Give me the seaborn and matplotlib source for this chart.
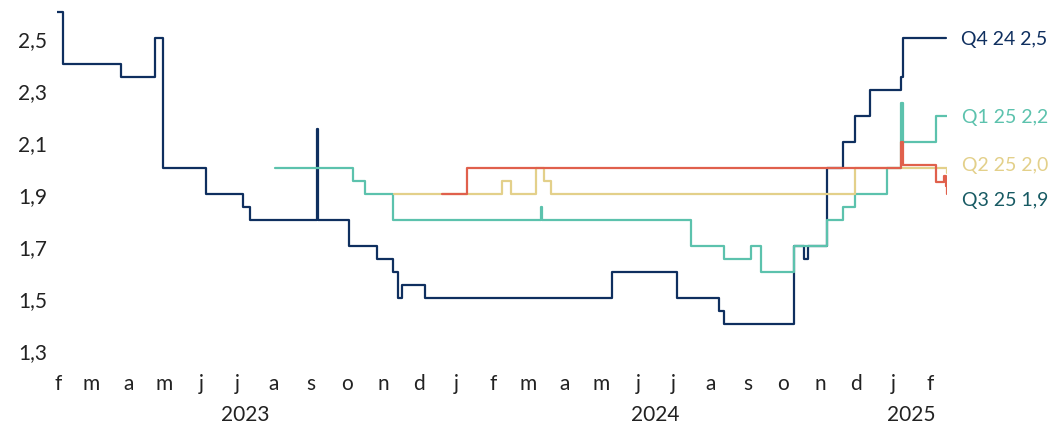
import pandas as pd
import numpy as np
import matplotlib.pyplot as plt
import seaborn as sns

# breakpoints (date where the value starts)
q4_24_dates = ['2023-01-31', '2023-02-05', '2023-03-26', '2023-04-23', '2023-04-30',
               '2023-06-05', '2023-07-06', '2023-07-12', '2023-09-06', '2023-09-07',
               '2023-10-03', '2023-10-26', '2023-11-09', '2023-11-13', '2023-11-16',
               '2023-12-06', '2024-05-10', '2024-07-04', '2024-08-08', '2024-08-12',
               '2024-10-10', '2024-10-18', '2024-10-22', '2024-11-07', '2024-11-20',
               '2024-11-30', '2024-12-13', '2025-01-08', '2025-01-09', '2025-02-14']
q4_24_vals = [2.6, 2.4, 2.35, 2.5, 2.0, 1.9, 1.85, 1.8, 2.15, 1.8,
              1.7, 1.65, 1.6, 1.5, 1.55, 1.5, 1.6, 1.5, 1.45, 1.4,
              1.7, 1.65, 1.7, 2.0, 2.1, 2.2, 2.3, 2.35, 2.5, 2.5]

q1_25_dates = ['2023-08-02', '2023-10-06', '2023-10-16', '2023-11-09', '2024-03-12',
               '2024-03-13', '2024-07-16', '2024-08-12', '2024-09-04', '2024-09-12',
               '2024-10-10', '2024-11-07', '2024-11-20', '2024-11-30', '2024-12-27',
               '2025-01-08', '2025-01-09', '2025-02-06', '2025-02-15']
q1_25_vals = [2.0, 1.95, 1.9, 1.8, 1.85, 1.8, 1.7, 1.65, 1.7, 1.6,
              1.7, 1.8, 1.85, 1.9, 2.0, 2.25, 2.1, 2.2, 2.2]

q2_25_dates = ['2023-11-10', '2024-02-08', '2024-02-16', '2024-03-08', '2024-03-14',
               '2024-03-20', '2024-11-30', '2025-02-15']
q2_25_vals = [1.9, 1.95, 1.9, 2.0, 1.95, 1.9, 2.0, 1.98]

q3_25_dates = ['2023-12-20', '2024-01-10', '2025-01-08', '2025-01-09', '2025-02-06',
               '2025-02-13', '2025-02-14', '2025-02-15']
q3_25_vals = [1.9, 2.0, 2.1, 2.01, 1.945, 1.97, 1.93, 1.9]

series_names = ['Q4 24', 'Q1 25', 'Q2 25', 'Q3 25']
line_colors = ['#0f2f5f', '#5cc2ad', '#e3d08a', '#e0604c']
label_colors = ['#0f2f5f', '#5cc2ad', '#e3d08a', '#175a63']
label_dy = [0, 0, 6, -4]  # points, to keep the end labels apart

month_ticks = pd.date_range('2023-02-01', '2025-02-01', freq='MS')
month_letters = ['f', 'm', 'a', 'm', 'j', 'j', 'a', 's', 'o', 'n', 'd',
                 'j', 'f', 'm', 'a', 'm', 'j', 'j', 'a', 's', 'o', 'n', 'd',
                 'j', 'f']
year_labels = ['2023', '2024', '2025']
year_label_dates = ['2023-07-08', '2024-06-16', '2025-01-16']

all_dates = [q4_24_dates, q1_25_dates, q2_25_dates, q3_25_dates]
all_vals = [q4_24_vals, q1_25_vals, q2_25_vals, q3_25_vals]

frames = []
for name, d, v in zip(series_names, all_dates, all_vals):
    frames.append(pd.DataFrame({'date': pd.to_datetime(d), 'value': v, 'series': name}))
data = pd.concat(frames, ignore_index=True)

sns.set_theme(style='white')
plt.rcParams['font.family'] = ['Lato', 'DejaVu Sans']

fig = plt.figure(figsize=(10.56, 4.27), dpi=100)
ax = fig.add_axes([56.8 / 1056, 1 - 356.2 / 427, 890 / 1056, (356.2 - 7.8) / 427])

sns.lineplot(data=data, x='date', y='value', hue='series', hue_order=series_names,
             palette=dict(zip(series_names, line_colors)), drawstyle='steps-post',
             linewidth=1.6, estimator=None, legend=False, ax=ax)

ax.set_xlim(pd.Timestamp('2023-01-31'), pd.Timestamp('2025-02-15'))
ax.set_ylim(1.28, 2.62)
sns.despine(ax=ax, left=True, bottom=True)

yt = np.round(np.arange(1.3, 2.51, 0.2), 1)
ax.set_yticks(yt, labels=[f'{t:.1f}'.replace('.', ',') for t in yt])
ax.tick_params(axis='y', length=0, pad=7, labelsize=15, labelcolor='#222222')
ax.set_xticks(month_ticks, labels=month_letters)
ax.tick_params(axis='x', length=0, pad=13, labelsize=15, labelcolor='#222222')
ax.set_xlabel('')
ax.set_ylabel('')

for lab, d in zip(year_labels, year_label_dates):
    ax.annotate(lab, xy=(pd.Timestamp(d), 0), xycoords=('data', 'axes fraction'),
                xytext=(0, -42), textcoords='offset points', ha='center', va='center',
                fontsize=15, color='#222222')

for name, d, v, c, dy in zip(series_names, all_dates, all_vals, label_colors, label_dy):
    ax.annotate(f'{name} {v[-1]:.1f}'.replace('.', ','), xy=(pd.Timestamp(d[-1]), v[-1]),
                xytext=(11, dy), textcoords='offset points', ha='left', va='center',
                fontsize=14, color=c, annotation_clip=False)

fig.savefig('out.png', dpi=100)
